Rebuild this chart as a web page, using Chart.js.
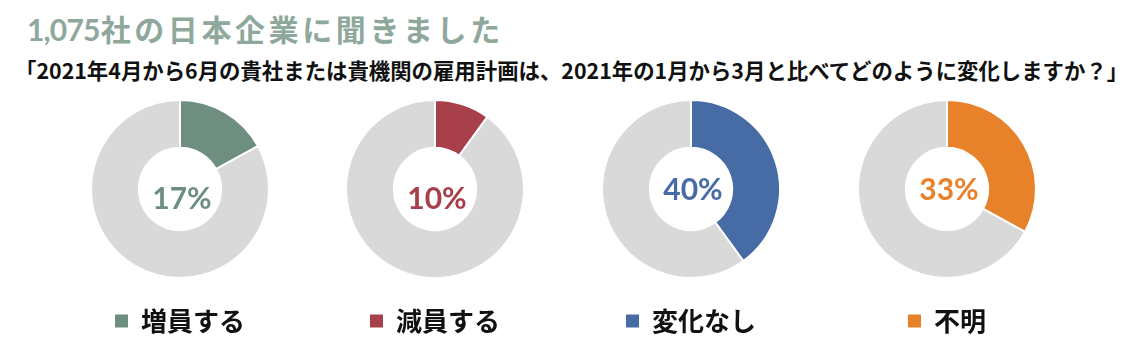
<!DOCTYPE html>
<html lang="ja">
<head>
<meta charset="utf-8">
<script src="https://cdn.jsdelivr.net/npm/chart.js@4.4.1/dist/chart.umd.min.js"></script>
<style>
  html, body { margin: 0; padding: 0; background: #fff; }
  body { width: 1139px; height: 357px; position: relative; overflow: hidden; font-family: "Noto Sans CJK JP", sans-serif; }
  #title { position: absolute; left: 27px; top: 10px; font-size: 30px; font-weight: 700; color: #8FA89C; letter-spacing: 3.6px; white-space: nowrap; line-height: 1.2; }
  #title .num { font-family: Lato, "Noto Sans CJK JP", sans-serif; font-size: 30px; letter-spacing: -0.8px; margin-right: 1px; }
  #subtitle { position: absolute; left: 15px; top: 57px; font-size: 21.4px; font-weight: 700; color: #111; white-space: nowrap; line-height: 1.2; }
  .box { position: absolute; top: 82px; width: 250px; height: 268px; }
</style>
</head>
<body>
<div id="title"><span class="num"></span><span class="rest"></span></div>
<div id="subtitle"></div>
<div class="box" style="left:55px"><canvas id="c0"></canvas></div>
<div class="box" style="left:310px"><canvas id="c1"></canvas></div>
<div class="box" style="left:566px"><canvas id="c2"></canvas></div>
<div class="box" style="left:822px"><canvas id="c3"></canvas></div>
<script>
const titleNumber = "1,075";
const titleText = "社の日本企業に聞きました";
const subtitleText = "「2021年4月から6月の貴社または貴機関の雇用計画は、2021年の1月から3月と比べてどのように変化しますか？」";
const categories = ["増員する", "減員する", "変化なし", "不明"];
const percentValues = [17, 10, 40, 33];
const remainderValues = [83, 90, 60, 67];

const seriesColors = ["#6E8F80", "#A8404C", "#476CA5", "#E8822A"];
const restColor = "#D9D9D9";
const labelDy = [9, 9, 0, 0];

document.querySelector("#title .num").textContent = titleNumber;
document.querySelector("#title .rest").textContent = titleText;
document.getElementById("subtitle").textContent = subtitleText;

const centerText = {
  id: "centerText",
  afterDatasetsDraw(chart, args, opts) {
    const meta = chart.getDatasetMeta(0);
    const arc = meta.data[0];
    if (!arc) return;
    const ctx = chart.ctx;
    ctx.save();
    ctx.font = "700 30px Lato";
    ctx.fillStyle = opts.color;
    ctx.textAlign = "center";
    ctx.textBaseline = "alphabetic";
    ctx.fillText(opts.text, arc.x + 2, arc.y + 11 + opts.dy);
    ctx.restore();
  }
};

categories.forEach((cat, i) => {
  new Chart(document.getElementById("c" + i), {
    type: "doughnut",
    data: {
      labels: [cat, "その他"],
      datasets: [{
        data: [percentValues[i], remainderValues[i]],
        backgroundColor: [seriesColors[i], restColor],
        borderColor: "#ffffff",
        borderWidth: 2
      }]
    },
    options: {
      responsive: true,
      maintainAspectRatio: false,
      animation: false,
      radius: 89,
      cutout: 49,
      layout: { padding: { top: 0, bottom: 6 } },
      plugins: {
        tooltip: { enabled: false },
        legend: {
          position: "bottom",
          labels: {
            boxWidth: 13,
            boxHeight: 13,
            padding: 12,
            color: "#111",
            font: { family: "'Noto Sans CJK JP'", size: 26, weight: "700" },
            filter: (item) => item.index === 0,
            generateLabels: (chart) => {
              const items = Chart.overrides.doughnut.plugins.legend.labels.generateLabels(chart);
              items.forEach(it => { it.lineWidth = 0; it.strokeStyle = it.fillStyle; });
              return items;
            }
          }
        },
        centerText: { text: percentValues[i] + "%", color: seriesColors[i], dy: labelDy[i] }
      }
    },
    plugins: [centerText]
  });
});
</script>
</body>
</html>
